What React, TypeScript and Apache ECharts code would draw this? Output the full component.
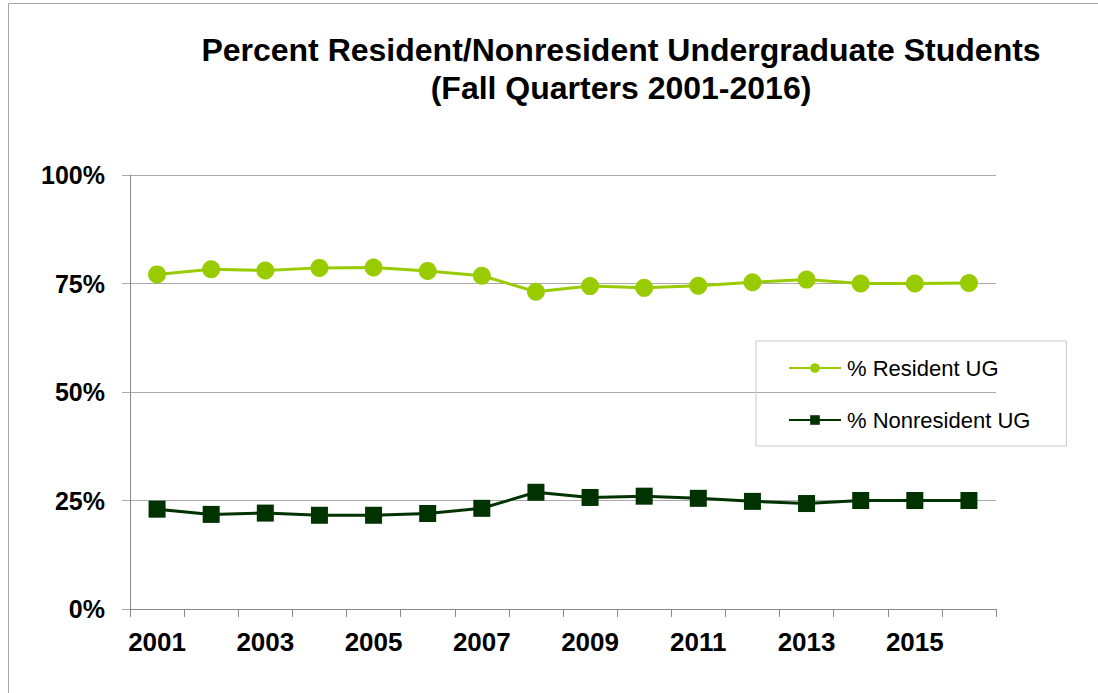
import React, { useEffect, useRef } from "react";
import * as echarts from "echarts";

const years = ["2001","2002","2003","2004","2005","2006","2007","2008","2009","2010","2011","2012","2013","2014","2015","2016"];
const residentUG = [77.1, 78.3, 78.0, 78.6, 78.7, 77.9, 76.8, 73.1, 74.4, 74.0, 74.5, 75.3, 75.9, 75.0, 75.0, 75.1];
const nonresidentUG = [23.0, 21.8, 22.1, 21.6, 21.6, 22.0, 23.2, 26.9, 25.7, 26.0, 25.5, 24.8, 24.3, 25.0, 25.0, 25.0];
const titleLines = ["Percent Resident/Nonresident Undergraduate Students", "(Fall Quarters 2001-2016)"];
const seriesNames = ["% Resident UG", "% Nonresident UG"];

const FONT = "'Liberation Sans', Arial, sans-serif";

export default function App() {
  const ref = useRef<HTMLDivElement>(null);
  useEffect(() => {
    if (!ref.current) return;
    const chart = echarts.init(ref.current, null, { renderer: "svg" });
    chart.setOption({
      animation: false,
      backgroundColor: "#ffffff",
      title: {
        text: titleLines.join("\n"),
        left: 616,
        textAlign: "center",
        top: 26,
        textStyle: { fontFamily: FONT, fontWeight: "bold", fontSize: 32, lineHeight: 38, color: "#000" },
      },
      graphic: [
        {
          type: "rect",
          shape: { x: 8.5, y: 3.5, width: 1200, height: 800 },
          style: { fill: "none", stroke: "#a6a6a6", lineWidth: 1 },
          silent: true,
        },
      ],
      legend: {
        orient: "vertical",
        left: 756,
        top: 341,
        padding: [16, 36, 15, 32],
        itemGap: 30,
        itemWidth: 52,
        itemHeight: 12,
        borderColor: "#c8c8c8",
        borderWidth: 1,
        textStyle: { fontFamily: FONT, fontSize: 22, color: "#000", padding: [0, 0, 0, 1] },
        data: seriesNames,
      },
      grid: { left: 130, right: 102, top: 175, bottom: 84, containLabel: false },
      xAxis: {
        type: "category",
        data: years,
        boundaryGap: true,
        axisLine: { show: true, lineStyle: { color: "#888888", width: 1 } },
        axisTick: { show: true, interval: 0, length: 8, lineStyle: { color: "#888888" } },
        axisLabel: { interval: 1, margin: 20, fontFamily: FONT, fontWeight: "bold", fontSize: 26, color: "#000" },
      },
      yAxis: {
        type: "value",
        min: 0,
        max: 100,
        interval: 25,
        axisLine: { show: true, lineStyle: { color: "#888888", width: 1 } },
        axisTick: { show: true, length: 8, lineStyle: { color: "#aaaaaa" } },
        axisLabel: { margin: 25, formatter: "{value}%", fontFamily: FONT, fontWeight: "bold", fontSize: 25, color: "#000" },
        splitLine: { show: true, lineStyle: { color: "#aaaaaa", width: 1 } },
      },
      series: [
        {
          name: seriesNames[0],
          type: "line",
          data: residentUG,
          symbol: "circle",
          symbolSize: 18,
          itemStyle: { color: "#99cc00" },
          lineStyle: { color: "#99cc00", width: 3 },
        },
        {
          name: seriesNames[1],
          type: "line",
          data: nonresidentUG,
          symbol: "rect",
          symbolSize: 17,
          itemStyle: { color: "#003300" },
          lineStyle: { color: "#003300", width: 3 },
        },
      ],
    });
    return () => chart.dispose();
  }, []);
  return (
    <div
      ref={ref}
      style={{ position: "fixed", left: 0, top: 0, width: 1098, height: 693 }}
    />
  );
}
